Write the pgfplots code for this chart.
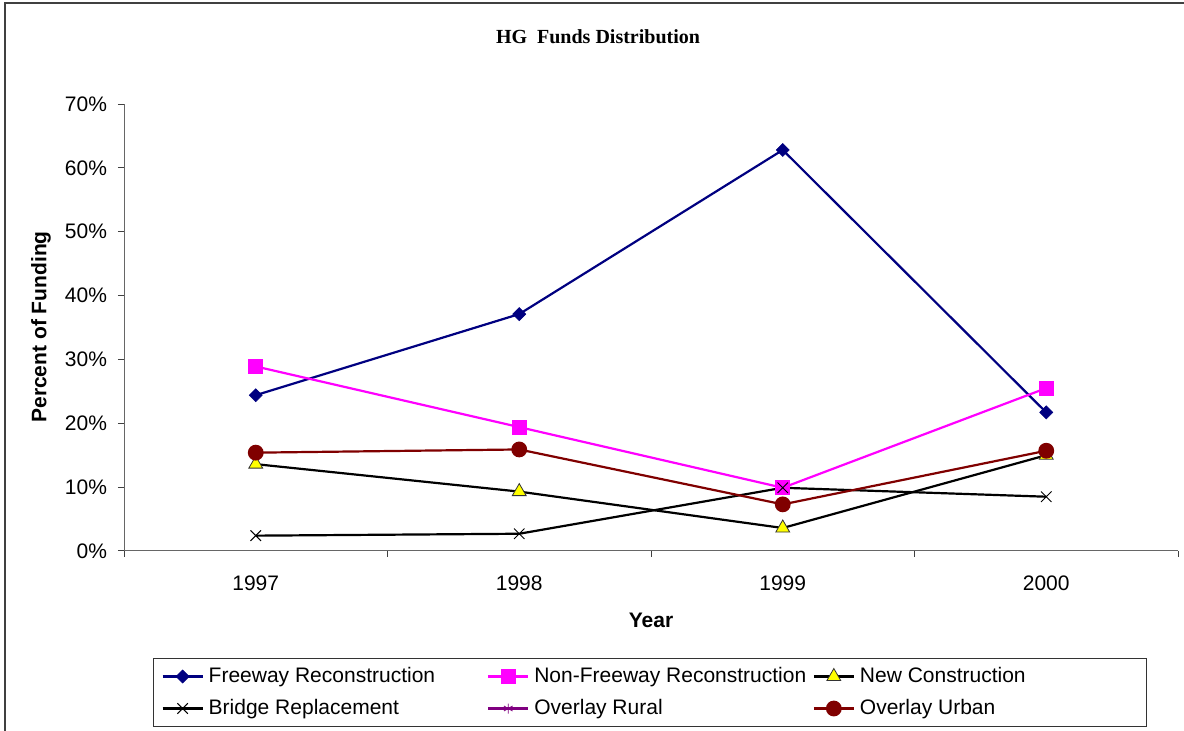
\documentclass[border=0pt]{standalone}
\usepackage{fontspec}
\setmainfont{Liberation Sans}
\newfontfamily\titlefont{Liberation Serif}
\usepackage{pgfplots}
\pgfplotsset{compat=1.18}
\definecolor{navyc}{HTML}{000080}
\definecolor{magc}{HTML}{FF00FF}
\definecolor{violc}{HTML}{800080}
\definecolor{dredc}{HTML}{800000}
\definecolor{yelc}{HTML}{FFFF00}
\newcommand{\lgd}[1]{\makebox[136.7pt][l]{#1}}
\begin{document}
\begin{tikzpicture}
\useasboundingbox (0,0) rectangle (592pt,365.5pt);
\draw[line width=1pt, color=black!75] (2.5pt,0pt) -- (2.5pt,363.75pt) -- (592pt,363.75pt);
\node[font=\titlefont\bfseries\fontsize{10}{12}\selectfont] at (299pt,347pt) {HG\ \ Funds Distribution};
\node[font=\bfseries\fontsize{10.5}{12}\selectfont, rotate=90] at (20.5pt,202pt) {Percent of Funding};
\node[font=\bfseries\fontsize{10.5}{12}\selectfont] at (325.5pt,55.5pt) {Year};
\begin{axis}[
  at={(62pt,90pt)}, anchor=south west,
  scale only axis, width=527pt, height=223.5pt,
  xmin=0.5, xmax=4.5, ymin=0, ymax=70,
  axis lines*=left,
  axis line style={draw=black!60, line width=0.5pt},
  tick align=outside, major tick length=3pt,
  tick style={color=black!75, line width=0.5pt},
  /pgf/number format/assume math mode=true,
  tick label style={font=\fontsize{10.5}{12}\selectfont},
  xtick={0.5,1.5,2.5,3.5,4.5}, xticklabels={},
  extra x ticks={1,2,3,4}, extra x tick labels={1997,1998,1999,2000},
  extra x tick style={major tick length=0pt, xticklabel style={yshift=-9pt}},
  ytick={0,10,20,30,40,50,60,70},
  yticklabels={0\%,10\%,20\%,30\%,40\%,50\%,60\%,70\%},
  yticklabel style={xshift=-2pt},
  clip=false,
  legend columns=3,
  legend image code/.code={\draw[mark repeat=2,mark phase=2,#1] plot coordinates {(0pt,0pt) (10pt,0pt) (20pt,0pt)};},
  legend style={at={(0.499,-0.3166)}, anchor=center, draw=black!80, line width=0.5pt,
    font=\fontsize{10.5}{12}\selectfont, inner xsep=4pt, inner ysep=3pt, row sep=3.7pt,
    nodes={inner xsep=2.5pt, inner ysep=1pt, text height=8pt, text depth=2.3pt}},
  legend cell align=left,
]
\addplot[navyc, line width=1.1pt, mark=square*, mark size=2.3pt, mark options={rotate=45, fill=navyc, draw=navyc, line width=0.3pt}]
  coordinates {(1,24.4) (2,37.1) (3,62.8) (4,21.7)};
\addlegendentry{\lgd{Freeway Reconstruction}}
\addplot[magc, line width=1.1pt, mark=square*, mark size=3.5pt, mark options={fill=magc, draw=magc, line width=0.3pt}]
  coordinates {(1,28.9) (2,19.4) (3,9.9) (4,25.5)};
\addlegendentry{\lgd{Non-Freeway Reconstruction}}
\addplot[black, line width=1.1pt, mark=triangle*, mark size=4pt, mark options={fill=yelc, draw=black!80, line width=0.4pt}]
  coordinates {(1,13.6) (2,9.3) (3,3.6) (4,15.0)};
\addlegendentry{\lgd{New Construction}}
\addplot[black, line width=1.1pt, mark=x, mark size=3.7pt, mark options={line width=0.5pt}]
  coordinates {(1,2.4) (2,2.7) (3,9.9) (4,8.5)};
\addlegendentry{\lgd{Bridge Replacement}}
\addlegendimage{violc, line width=1.1pt, mark=asterisk, mark size=2.5pt, mark options={line width=0.4pt}}
\addlegendentry{\lgd{Overlay Rural}}
\addplot[dredc, line width=1.1pt, mark=*, mark size=3.4pt, mark options={fill=dredc, draw=dredc}]
  coordinates {(1,15.4) (2,15.9) (3,7.3) (4,15.7)};
\addlegendentry{\lgd{Overlay Urban}}
\end{axis}
\end{tikzpicture}
\end{document}
